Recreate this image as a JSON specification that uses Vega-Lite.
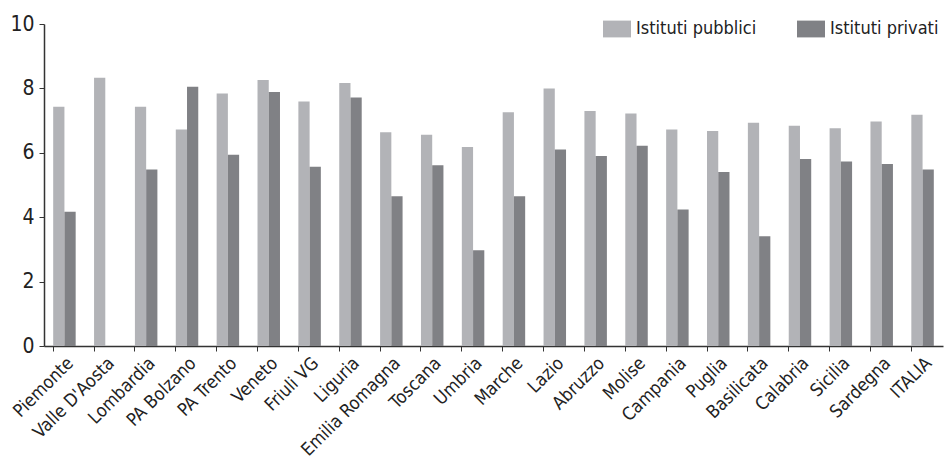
{
  "$schema": "https://vega.github.io/schema/vega-lite/v6.json",
  "width": 899,
  "height": 322,
  "autosize": {"type": "none"},
  "padding": {"left": 44, "top": 24, "right": 1, "bottom": 114},
  "background": "white",
  "config": {
    "view": {"stroke": null},
    "font": "DejaVu Sans Condensed",
    "axis": {"labelFont": "DejaVu Sans Condensed", "labelColor": "#222222", "domainColor": "#333333", "tickColor": "#333333", "grid": false}
  },
  "data": {
    "values": [
      {"r": "Piemonte", "t": "Istituti pubblici", "v": 7.43},
      {"r": "Piemonte", "t": "Istituti privati", "v": 4.17},
      {"r": "Valle D'Aosta", "t": "Istituti pubblici", "v": 8.33},
      {"r": "Lombardia", "t": "Istituti pubblici", "v": 7.43},
      {"r": "Lombardia", "t": "Istituti privati", "v": 5.48},
      {"r": "PA Bolzano", "t": "Istituti pubblici", "v": 6.72},
      {"r": "PA Bolzano", "t": "Istituti privati", "v": 8.05},
      {"r": "PA Trento", "t": "Istituti pubblici", "v": 7.84},
      {"r": "PA Trento", "t": "Istituti privati", "v": 5.94},
      {"r": "Veneto", "t": "Istituti pubblici", "v": 8.26},
      {"r": "Veneto", "t": "Istituti privati", "v": 7.89},
      {"r": "Friuli VG", "t": "Istituti pubblici", "v": 7.59},
      {"r": "Friuli VG", "t": "Istituti privati", "v": 5.57},
      {"r": "Liguria", "t": "Istituti pubblici", "v": 8.17},
      {"r": "Liguria", "t": "Istituti privati", "v": 7.72},
      {"r": "Emilia Romagna", "t": "Istituti pubblici", "v": 6.64},
      {"r": "Emilia Romagna", "t": "Istituti privati", "v": 4.65},
      {"r": "Toscana", "t": "Istituti pubblici", "v": 6.56},
      {"r": "Toscana", "t": "Istituti privati", "v": 5.61},
      {"r": "Umbria", "t": "Istituti pubblici", "v": 6.18},
      {"r": "Umbria", "t": "Istituti privati", "v": 2.97},
      {"r": "Marche", "t": "Istituti pubblici", "v": 7.26},
      {"r": "Marche", "t": "Istituti privati", "v": 4.65},
      {"r": "Lazio", "t": "Istituti pubblici", "v": 8.0},
      {"r": "Lazio", "t": "Istituti privati", "v": 6.1},
      {"r": "Abruzzo", "t": "Istituti pubblici", "v": 7.3},
      {"r": "Abruzzo", "t": "Istituti privati", "v": 5.9},
      {"r": "Molise", "t": "Istituti pubblici", "v": 7.22},
      {"r": "Molise", "t": "Istituti privati", "v": 6.22},
      {"r": "Campania", "t": "Istituti pubblici", "v": 6.72},
      {"r": "Campania", "t": "Istituti privati", "v": 4.24},
      {"r": "Puglia", "t": "Istituti pubblici", "v": 6.68},
      {"r": "Puglia", "t": "Istituti privati", "v": 5.4},
      {"r": "Basilicata", "t": "Istituti pubblici", "v": 6.93},
      {"r": "Basilicata", "t": "Istituti privati", "v": 3.41},
      {"r": "Calabria", "t": "Istituti pubblici", "v": 6.84},
      {"r": "Calabria", "t": "Istituti privati", "v": 5.81},
      {"r": "Sicilia", "t": "Istituti pubblici", "v": 6.76},
      {"r": "Sicilia", "t": "Istituti privati", "v": 5.73},
      {"r": "Sardegna", "t": "Istituti pubblici", "v": 6.97},
      {"r": "Sardegna", "t": "Istituti privati", "v": 5.65},
      {"r": "ITALIA", "t": "Istituti pubblici", "v": 7.18},
      {"r": "ITALIA", "t": "Istituti privati", "v": 5.48}
    ]
  },
  "mark": {"type": "bar"},
  "encoding": {
    "x": {
      "field": "r", "type": "nominal", "sort": null, "title": null,
      "scale": {"paddingInner": 0.45, "paddingOuter": 0.225},
      "axis": {"labelAngle": -45, "labelAlign": "right", "labelBaseline": "top", "labelFontSize": 18, "tickSize": 5, "bandPosition": 0, "labelPadding": 3, "domainWidth": 1.5, "labelOverlap": false}
    },
    "xOffset": {"field": "t", "type": "nominal", "sort": ["Istituti pubblici", "Istituti privati"], "scale": {"paddingInner": 0, "paddingOuter": 0}},
    "y": {
      "field": "v", "type": "quantitative", "title": null,
      "scale": {"domain": [0, 10], "nice": false},
      "axis": {"values": [0, 2, 4, 6, 8, 10], "labelFontSize": 21, "tickSize": 5, "labelPadding": 5, "domainWidth": 1.5}
    },
    "color": {
      "field": "t", "type": "nominal", "title": null,
      "scale": {"domain": ["Istituti pubblici", "Istituti privati"], "range": ["#b2b3b7", "#808185"]},
      "legend": {
        "orient": "none", "legendX": 559, "legendY": -9, "direction": "horizontal",
        "symbolType": "M-1,-0.6H1V0.6H-1Z", "symbolSize": 784, "symbolStrokeWidth": 0,
        "labelFontSize": 18, "labelFont": "DejaVu Sans Condensed", "labelColor": "#222222",
        "labelOffset": 5, "columnPadding": 40, "labelLimit": 300
      }
    }
  }
}
